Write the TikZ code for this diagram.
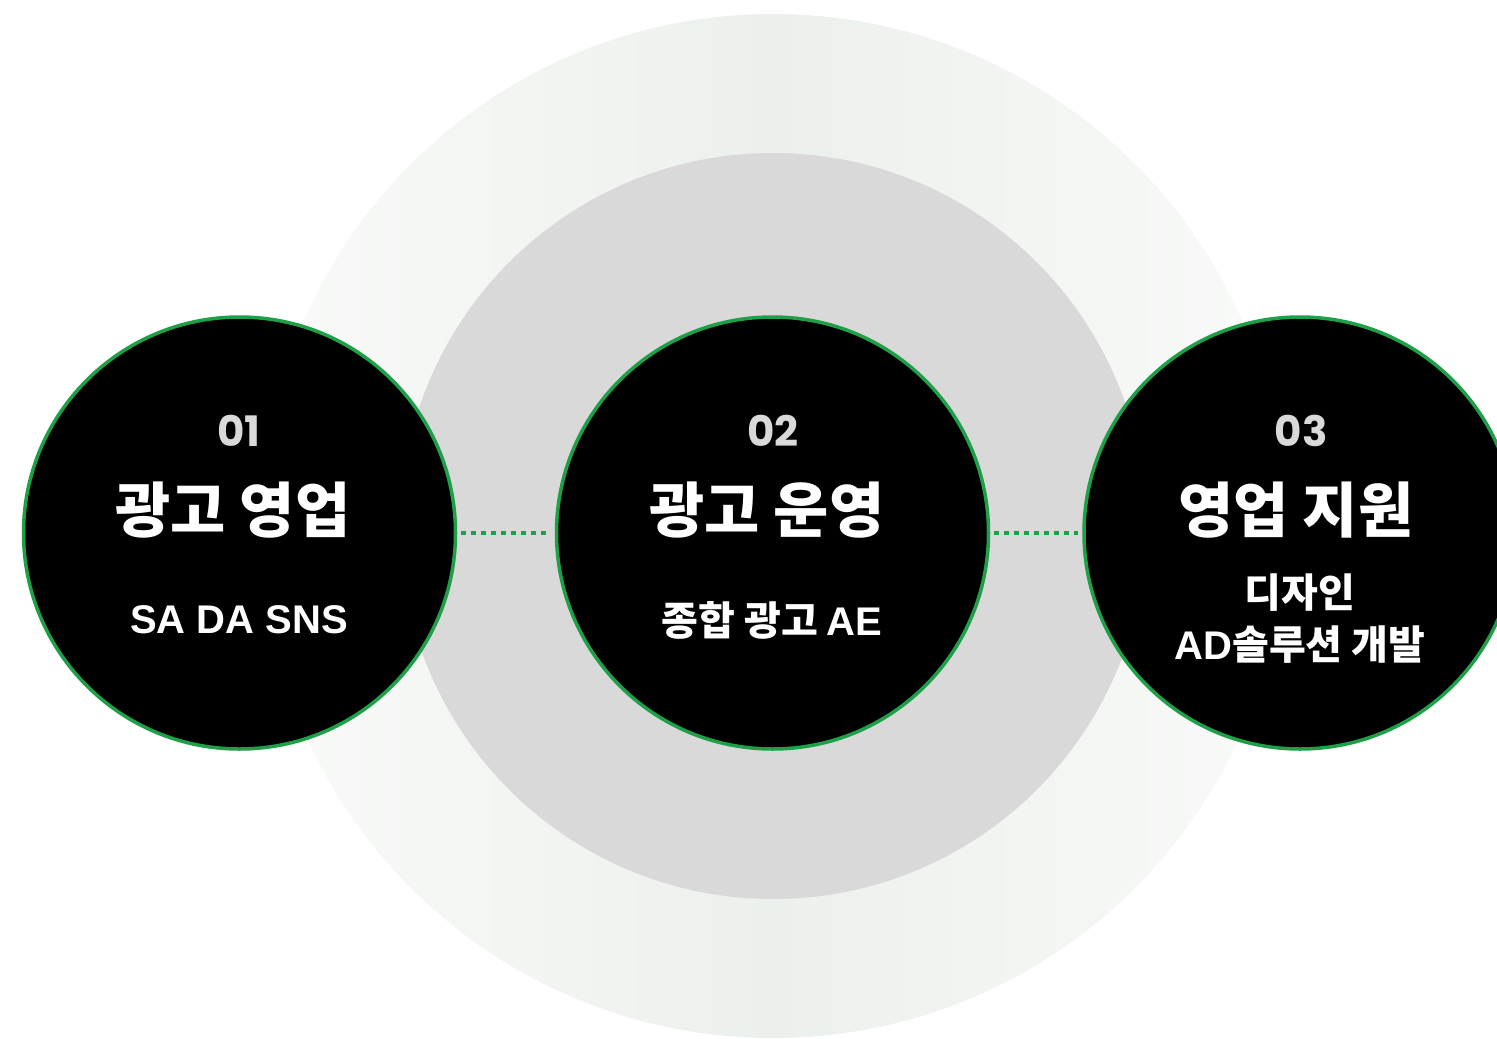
\documentclass[tikz,border=0pt]{standalone}
\usepackage{fontspec}
\setmainfont{Noto Sans CJK KR}
\newfontfamily\numfont{Poppins}
\newfontfamily\latinfont{Liberation Sans}
\definecolor{ringgreen}{RGB}{30,160,72}
\definecolor{numgray}{RGB}{217,217,217}
\definecolor{innerbg}{RGB}{216,217,216}
\definecolor{outermid}{RGB}{236,240,236}
\definecolor{outeredge}{RGB}{249,250,249}
\tikzset{
  stepcircle/.style={circle, fill=black, draw=ringgreen, line width=3.5pt, minimum size=432pt, inner sep=0pt},
  numtext/.style={text=numgray, font=\numfont\fontsize{42}{46}\selectfont\bfseries, anchor=center},
  titletext/.style={text=white, font=\fontsize{60}{64}\selectfont\bfseries, anchor=center},
  subtext/.style={text=white, font=\fontsize{40}{52}\selectfont\bfseries, anchor=center, align=center},
  dotline/.style={draw=ringgreen, line width=4.5pt, dash pattern=on 4.5pt off 5.5pt, shorten <=4pt, shorten >=4pt}
}
\begin{document}
\begin{tikzpicture}[x=1pt,y=-1pt]
\useasboundingbox (0,0) rectangle (1497,1039);
% background circles
\shade[left color=outeredge, right color=outeredge, middle color=outermid] (773,526) circle (512);
\fill[innerbg] (773,526) circle (373);
% step circles
\node[stepcircle] (c1) at (239.5,533) {};
\node[stepcircle] (c2) at (772.5,533) {};
\node[stepcircle] (c3) at (1300,533) {};
% connectors
\draw[dotline] (c1.east) -- (c2.west);
\draw[dotline] (c2.east) -- (c3.west);
% texts
\node[numtext] (n1) at (239,431) {01};
\node[titletext] (t1) at (233,510) {광고 영업};
\node[subtext] (s1) at (239,620) {\latinfont SA DA SNS};
\node[numtext] (n2) at (773,431) {02};
\node[titletext] (t2) at (767,510) {광고 운영};
\node[subtext] (s2) at (772,620) {종합 광고 {\latinfont AE}};
\node[numtext] (n3) at (1301,431) {03};
\node[titletext] (t3) at (1296,510) {영업 지원};
\node[subtext] (s3) at (1300,619) {디자인\\{\latinfont AD}솔루션 개발};
\end{tikzpicture}
\end{document}
